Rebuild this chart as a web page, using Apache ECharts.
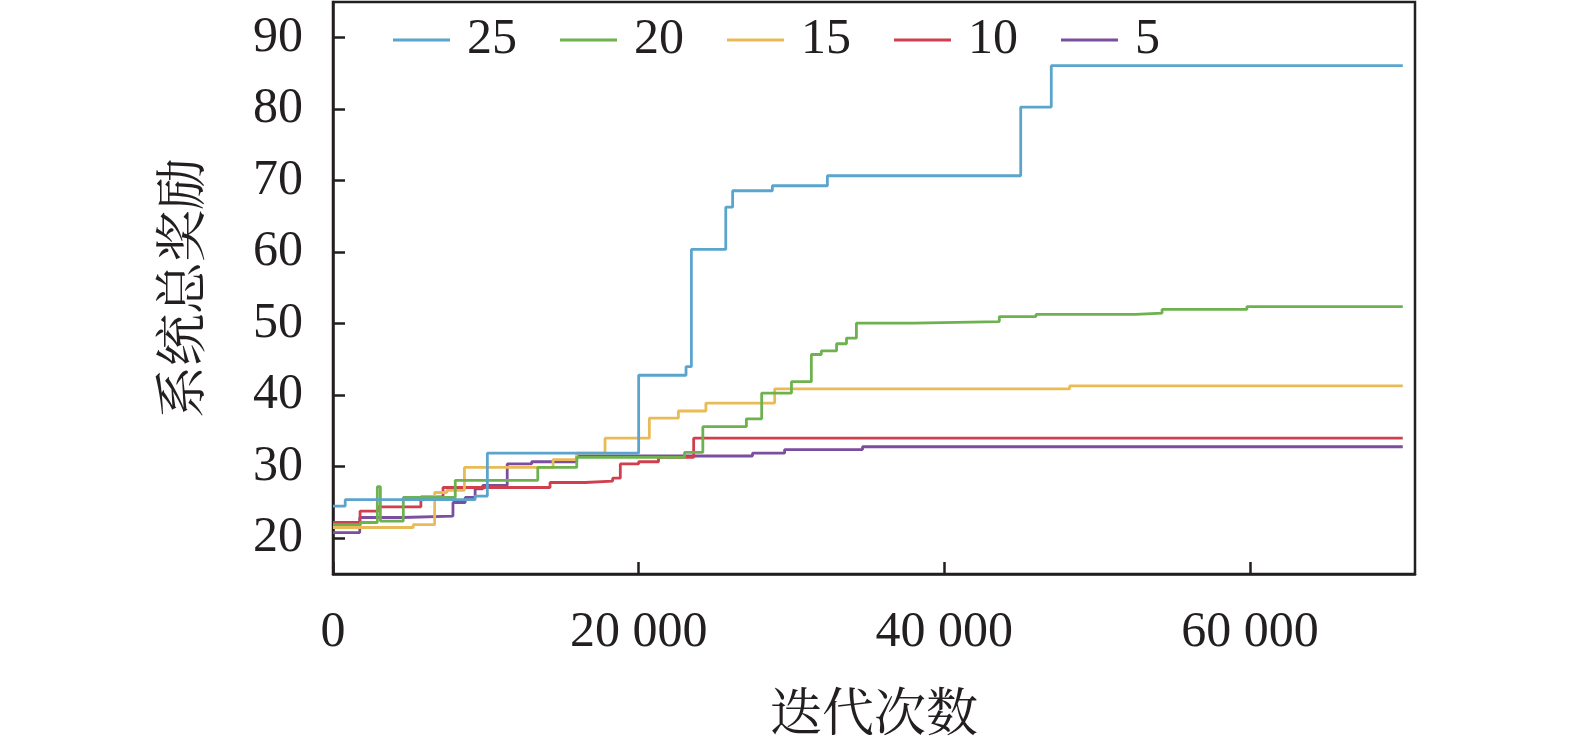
<!DOCTYPE html>
<html>
<head>
    <meta charset="utf-8">
    <title>系统总奖励</title>
    <style>
        html, body {margin: 0; padding: 0; background: #fff;}
        #chart {width: 1575px; height: 748px;}
    </style>
    <script src="https://cdn.jsdelivr.net/npm/echarts/dist/echarts.min.js"></script>
</head>
<body>
<div id="chart"></div>
<script>
    // 图例名称
    var seriesNames = ['25', '20', '15', '10', '5'];
    var COLOR_ALL = ['#5aa4cd', '#6db24f', '#e9bb57', '#cf3f4e', '#7b4e9f'];

    // 各曲线: 迭代次数 / 系统总奖励 (阶梯)
    var iter25 = [0, 800, 9300, 10100, 20000, 23100, 23450, 25700, 26150, 28750, 32350, 45000, 47000, 70000];
    var reward25 = [24.5, 25.4, 25.9, 31.9, 42.8, 44.0, 60.4, 66.3, 68.6, 69.3, 70.7, 80.3, 86.1, 86.1];

    var iter20 = [0, 1800, 2900, 3100, 4600, 8000, 13400, 15950, 23000, 24200, 27050, 28050, 30000, 31300, 31950, 32950, 33600, 34250, 38000, 43600, 46000, 52500, 54250, 59800, 70000];
    var reward20 = [21.9, 22.2, 27.2, 22.4, 25.7, 28.1, 29.9, 31.3, 32.0, 35.6, 36.7, 40.3, 41.9, 45.7, 46.2, 47.2, 48.0, 50.1, 50.3, 51.0, 51.3, 51.5, 52.0, 52.4, 52.4];

    var iter15 = [0, 5250, 6650, 7450, 8600, 14400, 15950, 17800, 20700, 22600, 24400, 28900, 48200, 70000];
    var reward15 = [21.5, 21.9, 26.4, 26.7, 29.9, 31.0, 31.9, 34.0, 36.8, 37.8, 38.9, 40.9, 41.3, 41.3];

    var iter10 = [0, 1770, 2940, 5750, 7200, 14200, 16500, 18300, 18800, 20000, 21300, 23600, 70000];
    var reward10 = [22.2, 23.8, 24.4, 25.8, 27.1, 27.8, 28.0, 28.4, 30.4, 30.7, 31.3, 34.0, 34.0];

    var iter5 = [0, 1750, 4500, 7850, 8650, 9300, 9800, 11400, 13000, 15950, 27450, 29550, 34650, 70000];
    var reward5 = [20.8, 22.9, 23.1, 25.0, 25.7, 26.9, 27.4, 30.4, 30.7, 31.5, 31.9, 32.4, 32.8, 32.8];

    var xTicks = [0, 20000, 40000, 60000];
    var yTicks = [20, 30, 40, 50, 60, 70, 80, 90];

    var iters = [iter25, iter20, iter15, iter10, iter5];
    var rewards = [reward25, reward20, reward15, reward10, reward5];

    var FONT = "'Liberation Serif', 'Times New Roman', 'Noto Serif CJK SC', 'Noto Sans CJK SC', serif";
    var AXIS_COLOR = '#231f20';

    function zip(xs, ys) {
        var out = [];
        for (var i = 0; i < xs.length; i++) {
            out.push([xs[i], ys[i]]);
        }
        return out;
    }

    var series = [];
    for (var i = 0; i < seriesNames.length; i++) {
        series.push({
            name: seriesNames[i],
            type: 'line',
            step: 'end',
            symbol: 'none',
            data: zip(iters[i], rewards[i]),
            color: COLOR_ALL[i],
            lineStyle: {width: 2.8, color: COLOR_ALL[i]}
        });
    }
    // 后画的在上面: 让 25 在最上层
    series.reverse();

    var chart = echarts.init(document.getElementById('chart'));
    var option = {
        animation: false,
        backgroundColor: '#fff',
        textStyle: {fontFamily: FONT},
        legend: {
            data: seriesNames,
            icon: 'rect',
            left: 388,
            top: 10,
            itemWidth: 57,
            itemHeight: 3,
            itemGap: 43,
            textStyle: {fontFamily: FONT, fontSize: 50, color: '#231f20', padding: [0, 0, 0, 12]}
        },
        grid: {
            left: 333,
            right: 160,
            top: 2,
            bottom: 169,
            show: true,
            borderColor: AXIS_COLOR,
            borderWidth: 2.5
        },
        xAxis: {
            type: 'value',
            min: 0,
            max: 70800,
            name: '迭代次数',
            nameLocation: 'middle',
            nameGap: 117,
            nameTextStyle: {fontFamily: FONT, fontSize: 52, color: '#231f20'},
            splitLine: {show: false},
            axisLine: {lineStyle: {color: AXIS_COLOR, width: 2.5}},
            axisTick: {inside: true, length: 12, lineStyle: {width: 2.5}, customValues: xTicks},
            axisLabel: {
                customValues: xTicks,
                margin: 34,
                fontSize: 50,
                fontFamily: FONT,
                color: '#231f20',
                formatter: function (v) {
                    return v === 0 ? '0' : (v / 1000) + ' 000';
                }
            }
        },
        yAxis: {
            type: 'value',
            min: 15,
            max: 95,
            name: '系统总奖励',
            nameLocation: 'middle',
            nameGap: 121,
            nameTextStyle: {fontFamily: FONT, fontSize: 52, color: '#231f20'},
            splitLine: {show: false},
            axisLine: {lineStyle: {color: AXIS_COLOR, width: 2.5}},
            axisTick: {inside: true, length: 12, lineStyle: {width: 2.5}, customValues: yTicks},
            axisLabel: {
                customValues: yTicks,
                margin: 30,
                fontSize: 50,
                fontFamily: FONT,
                color: '#231f20'
            }
        },
        series: series
    };
    chart.setOption(option);

    window.onresize = function () {
        chart.resize();
    };
</script>
</body>
</html>
